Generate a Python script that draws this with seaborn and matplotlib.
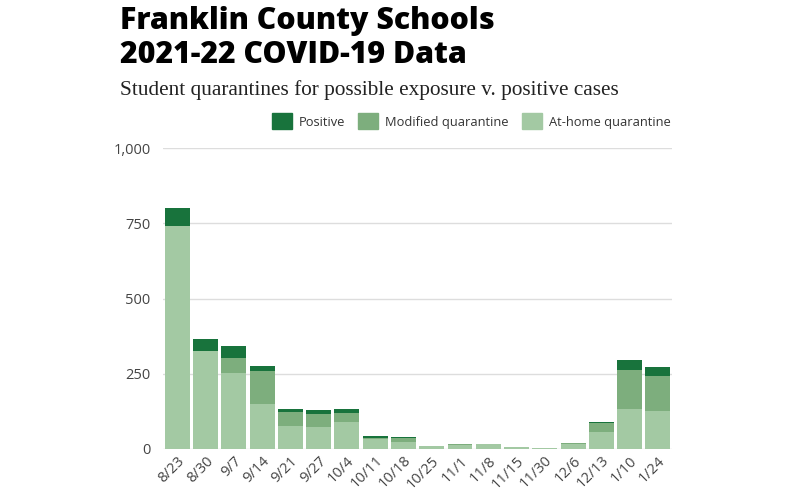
import matplotlib
matplotlib.use('Agg')
import matplotlib.pyplot as plt
import matplotlib.patches as mpatches
import seaborn as sns
import numpy as np

weeks = ['8/23', '8/30', '9/7', '9/14', '9/21', '9/27', '10/4', '10/11', '10/18',
         '10/25', '11/1', '11/8', '11/15', '11/30', '12/6', '12/13', '1/10', '1/24']
at_home = [740, 326, 253, 148, 76, 74, 89, 33, 22, 9, 13, 16, 8, 4, 16, 55, 134, 126]
modified = [0, 0, 50, 111, 48, 42, 29, 5, 13, 0, 3, 0, 0, 0, 3, 31, 129, 117]
positive = [62, 41, 39, 18, 10, 13, 14, 5, 6, 0, 0, 0, 0, 0, 0, 5, 32, 28]
y_ticks = [0, 250, 500, 750, 1000]

C_POS = '#18733c'
C_MOD = '#7dae7d'
C_HOME = '#a3c9a3'

sns.set_theme(style='white')
plt.rcParams['font.family'] = ['Open Sans', 'DejaVu Sans']

fig = plt.figure(figsize=(8, 5), dpi=100)
ax = fig.add_axes([0.204, 0.102, 0.636, 0.602])

home = np.array(at_home)
mod_top = home + np.array(modified)
total = mod_top + np.array(positive)

# stacked bars: draw cumulative totals back to front
for vals, col in [(total, C_POS), (mod_top, C_MOD), (home, C_HOME)]:
    sns.barplot(x=weeks, y=vals, color=col, saturation=1, width=0.88,
                linewidth=0, ax=ax, zorder=3)

ax.set_ylim(0, 1000)
ax.set_xlim(-0.5, len(weeks) - 0.5)
ax.set_yticks(y_ticks)
ax.set_yticklabels([f'{v:,}' for v in y_ticks], fontsize=10.5, color='#444444')
ax.yaxis.grid(True, color='#dddddd', lw=1, zorder=0)
ax.tick_params(axis='y', length=0, pad=9)
ax.tick_params(axis='x', length=0, pad=3)
plt.setp(ax.get_xticklabels(), rotation=45, ha='right', rotation_mode='anchor',
         fontsize=10.5, color='#444444')
ax.set_xlabel('')
ax.set_ylabel('')
for s in ax.spines.values():
    s.set_visible(False)

fig.text(0.15, 0.941, 'Franklin County Schools', fontsize=21.8, fontweight='heavy',
         color='black', va='baseline')
fig.text(0.15, 0.874, '2021-22 COVID-19 Data', fontsize=21.8, fontweight='heavy',
         color='black', va='baseline')
fig.text(0.15, 0.81, 'Student quarantines for possible exposure v. positive cases',
         fontsize=15.3, family=['Liberation Serif', 'DejaVu Serif'], color='#222222',
         va='baseline')

handles = [mpatches.Patch(color=C_POS, label='Positive'),
           mpatches.Patch(color=C_MOD, label='Modified quarantine'),
           mpatches.Patch(color=C_HOME, label='At-home quarantine')]
leg = fig.legend(handles=handles, loc='upper right', bbox_to_anchor=(0.848, 0.789),
                 ncol=3, frameon=False, fontsize=9.3, handlelength=1.55, handleheight=1.55,
                 handletextpad=0.55, columnspacing=1.0, borderaxespad=0.2)
for t in leg.get_texts():
    t.set_color('#333333')

fig.savefig('out.png', dpi=100)
